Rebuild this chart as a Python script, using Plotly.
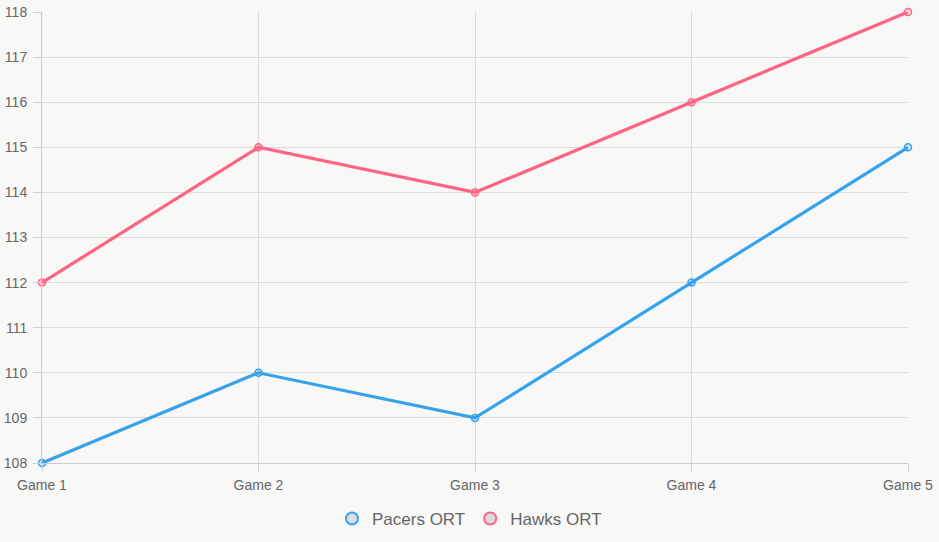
import plotly.graph_objects as go

games = ["Game 1", "Game 2", "Game 3", "Game 4", "Game 5"]
pacers = [108, 110, 109, 112, 115]
hawks = [112, 115, 114, 116, 118]

series = [
    ("Pacers ORT", pacers, "#36A2EB", "rgba(54,162,235,0.2)"),
    ("Hawks ORT", hawks, "#FF6384", "rgba(255,99,132,0.2)"),
]

fig = go.Figure()
for name, vals, col, fill in series:
    fig.add_trace(go.Scatter(
        x=games, y=vals, mode="lines+markers", name=name, showlegend=False,
        line=dict(color=col, width=3.2),
        marker=dict(size=7, color=fill, line=dict(color=col, width=1.5)),
        cliponaxis=False,
    ))
for name, vals, col, fill in series:
    fig.add_trace(go.Scatter(
        x=[None], y=[None], mode="markers", name=name,
        marker=dict(size=16, color="#dcdcdc", line=dict(color=col, width=1.5)),
    ))

grid = "#dcdcdc"
fig.update_layout(
    width=939, height=542,
    margin=dict(l=42, r=31, t=12, b=79),
    paper_bgcolor="#f8f8f6", plot_bgcolor="#f8f8f6",
    font=dict(family="Liberation Sans, Arial, sans-serif", color="#666666", size=14),
    showlegend=True,
    legend=dict(orientation="h", x=0.5, xanchor="center", xref="container",
                y=1 - 519 / 542, yanchor="middle", yref="container",
                font=dict(size=17, color="#666666"), itemsizing="constant"),
    xaxis=dict(showgrid=True, gridcolor=grid, gridwidth=1, showline=True, linecolor="#cccccc",
               ticks="outside", ticklen=8, tickcolor="#d0d0d0", zeroline=False,
               range=[0, 4], tickfont=dict(size=14), automargin=False, ticklabelstandoff=1),
    yaxis=dict(showgrid=True, gridcolor=grid, gridwidth=1, showline=True, linecolor="#cccccc",
               ticks="outside", ticklen=8, tickcolor="#d0d0d0", zeroline=False,
               range=[108, 118], dtick=1, tickfont=dict(size=14), automargin=False,
               ticklabelstandoff=3),
)
fig.update_xaxes(type="category")
fig.write_html("out.html")
